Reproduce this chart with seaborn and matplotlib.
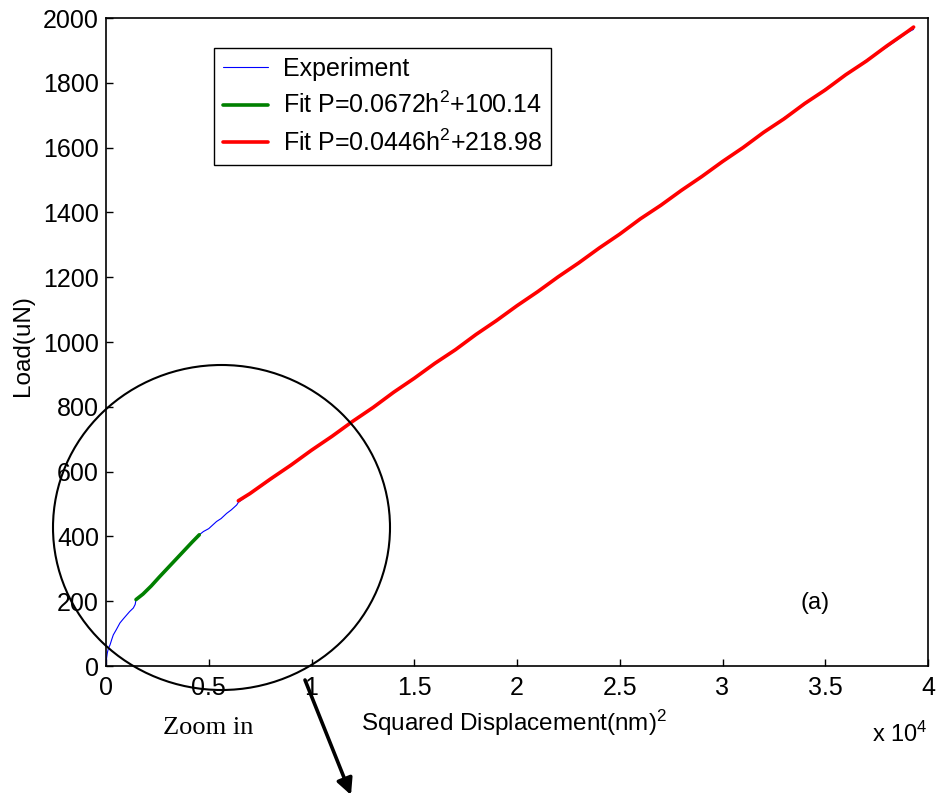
import matplotlib
matplotlib.use("Agg")
import matplotlib.pyplot as plt
import seaborn as sns
import pandas as pd
from matplotlib.patches import Ellipse, FancyArrowPatch

# ---------------- data (h^2 in nm^2, load in uN) ----------------
exp_h2 = [0, 30, 63, 120, 195, 280, 355, 500, 680, 850, 1000, 1150, 1330, 1420, 1460,
          1800, 2200, 2600, 3000, 3400, 3800, 4200, 4540, 4740, 5000, 5380, 5600, 5870,
          6100, 6360, 6440, 7000, 8000, 9000, 10000, 11000, 12000, 13000, 14000, 15000,
          16000, 17000, 18000, 19000, 20000, 21000, 22000, 23000, 24000, 25000, 26000,
          27000, 28000, 29000, 30000, 31000, 32000, 33000, 34000, 35000, 36000, 37000,
          38000, 39000, 39300]
exp_load = [0, 25, 40, 55, 65, 82, 96, 112, 133, 146, 157, 168, 179, 190, 205,
            222, 247, 276, 301, 330, 355, 384, 405, 415, 424, 446, 455, 471,
            482, 497, 505, 531, 574, 622, 664, 710, 753, 800, 843, 889,
            932, 978, 1021, 1068, 1110, 1157, 1199, 1246, 1288, 1335, 1378,
            1424, 1466, 1513, 1555, 1602, 1645, 1692, 1733, 1781, 1823, 1870,
            1910, 1955, 1965]

fit1_h2 = [1460, 1800, 2200, 2600, 3000, 3400, 3800, 4200, 4540]
fit1_load = [205, 222, 247, 275, 302, 329, 356, 383, 405]

fit2_h2 = [6440, 7000, 8000, 9000, 10000, 11000, 12000, 13000, 14000, 15000, 16000,
           17000, 18000, 19000, 20000, 21000, 22000, 23000, 24000, 25000, 26000, 27000,
           28000, 29000, 30000, 31000, 32000, 33000, 34000, 35000, 36000, 37000, 38000,
           39000, 39300]
fit2_load = [510, 532, 577, 620, 666, 709, 755, 798, 845, 888, 934, 976, 1023, 1066,
             1112, 1155, 1201, 1244, 1290, 1333, 1380, 1422, 1468, 1511, 1557, 1600,
             1647, 1689, 1736, 1778, 1825, 1867, 1914, 1958, 1972]

x_ticks = [0, 0.5, 1, 1.5, 2, 2.5, 3, 3.5, 4]
x_tick_labels = ["0", "0.5", "1", "1.5", "2", "2.5", "3", "3.5", "4"]
y_ticks = [0, 200, 400, 600, 800, 1000, 1200, 1400, 1600, 1800, 2000]

labels = ["Experiment", "Fit P=0.0672h$^2$+100.14", "Fit P=0.0446h$^2$+218.98"]

# ---------------- style ----------------
sns.set_style("white")
plt.rcParams["font.family"] = ["Liberation Sans", "DejaVu Sans"]
plt.rcParams["mathtext.fontset"] = "custom"
plt.rcParams["mathtext.rm"] = "Liberation Sans"
plt.rcParams["mathtext.it"] = "Liberation Sans:italic"
plt.rcParams["mathtext.bf"] = "Liberation Sans:bold"
plt.rcParams["text.color"] = "black"
plt.rcParams["axes.labelcolor"] = "black"
plt.rcParams["xtick.color"] = "black"
plt.rcParams["ytick.color"] = "black"

fig = plt.figure(figsize=(9.36, 8.0), dpi=100)
ax = fig.add_axes([106 / 936, 1 - 666 / 800, 822 / 936, 648 / 800])

df_exp = pd.DataFrame({"h2": [v / 1e4 for v in exp_h2], "P": exp_load})
df_f1 = pd.DataFrame({"h2": [v / 1e4 for v in fit1_h2], "P": fit1_load})
df_f2 = pd.DataFrame({"h2": [v / 1e4 for v in fit2_h2], "P": fit2_load})

sns.lineplot(data=df_exp, x="h2", y="P", ax=ax, color="#0000ff", linewidth=0.8,
             label=labels[0], estimator=None, sort=False)
sns.lineplot(data=df_f1, x="h2", y="P", ax=ax, color="#008000", linewidth=2.6,
             label=labels[1], estimator=None, sort=False)
sns.lineplot(data=df_f2, x="h2", y="P", ax=ax, color="#ff0000", linewidth=2.6,
             label=labels[2], estimator=None, sort=False)

ax.set_xlim(0, 4)
ax.set_ylim(0, 2000)
ax.set_xticks(x_ticks)
ax.set_xticklabels(x_tick_labels)
ax.set_yticks(y_ticks)
ax.tick_params(axis="both", direction="in", length=5, width=1, labelsize=18,
               colors="black", bottom=True, left=True, top=False, right=False)
ax.tick_params(axis="x", pad=7)
ax.tick_params(axis="y", pad=5)
for s in ax.spines.values():
    s.set_color("black")
    s.set_linewidth(1.2)

ax.set_xlabel("Squared Displacement(nm)$^2$", fontsize=17.5)
ax.xaxis.set_label_coords((514 - 106) / 822, -0.065)
ax.set_ylabel("Load(uN)", fontsize=17.5)
ax.yaxis.set_label_coords(-0.088, 0.495)

leg = ax.legend(loc="upper left", bbox_to_anchor=((214 - 106) / 822, (666 - 48) / 648),
                borderaxespad=0, fontsize=18, frameon=True, fancybox=False,
                framealpha=1, edgecolor="black", handlelength=1.8, handletextpad=0.6,
                labelspacing=0.45, borderpad=0.35)
leg.get_frame().set_linewidth(1.0)

fig.text(928 / 936, 1 - 742 / 800, "x 10$^4$", fontsize=17, ha="right", va="baseline")
fig.text(815 / 936, 1 - 603 / 800, "(a)", fontsize=17, ha="center", va="center")
fig.text(208 / 936, 1 - 728 / 800, "Zoom in", fontsize=19, ha="center", va="center",
         family=["Liberation Serif", "DejaVu Serif"])

circ = Ellipse((221.5 / 936, 1 - 527.5 / 800), 337 / 936, 325 / 800,
               transform=fig.transFigure, fill=False, edgecolor="black", linewidth=1.5,
               clip_on=False)
fig.add_artist(circ)

arrow = FancyArrowPatch((305 / 936, 1 - 680 / 800), (351 / 936, 1 - 795 / 800),
                        transform=fig.transFigure, arrowstyle="-|>", mutation_scale=24,
                        color="black", linewidth=2.6, shrinkA=0, shrinkB=0)
fig.add_artist(arrow)

fig.savefig("out.png", dpi=100)
